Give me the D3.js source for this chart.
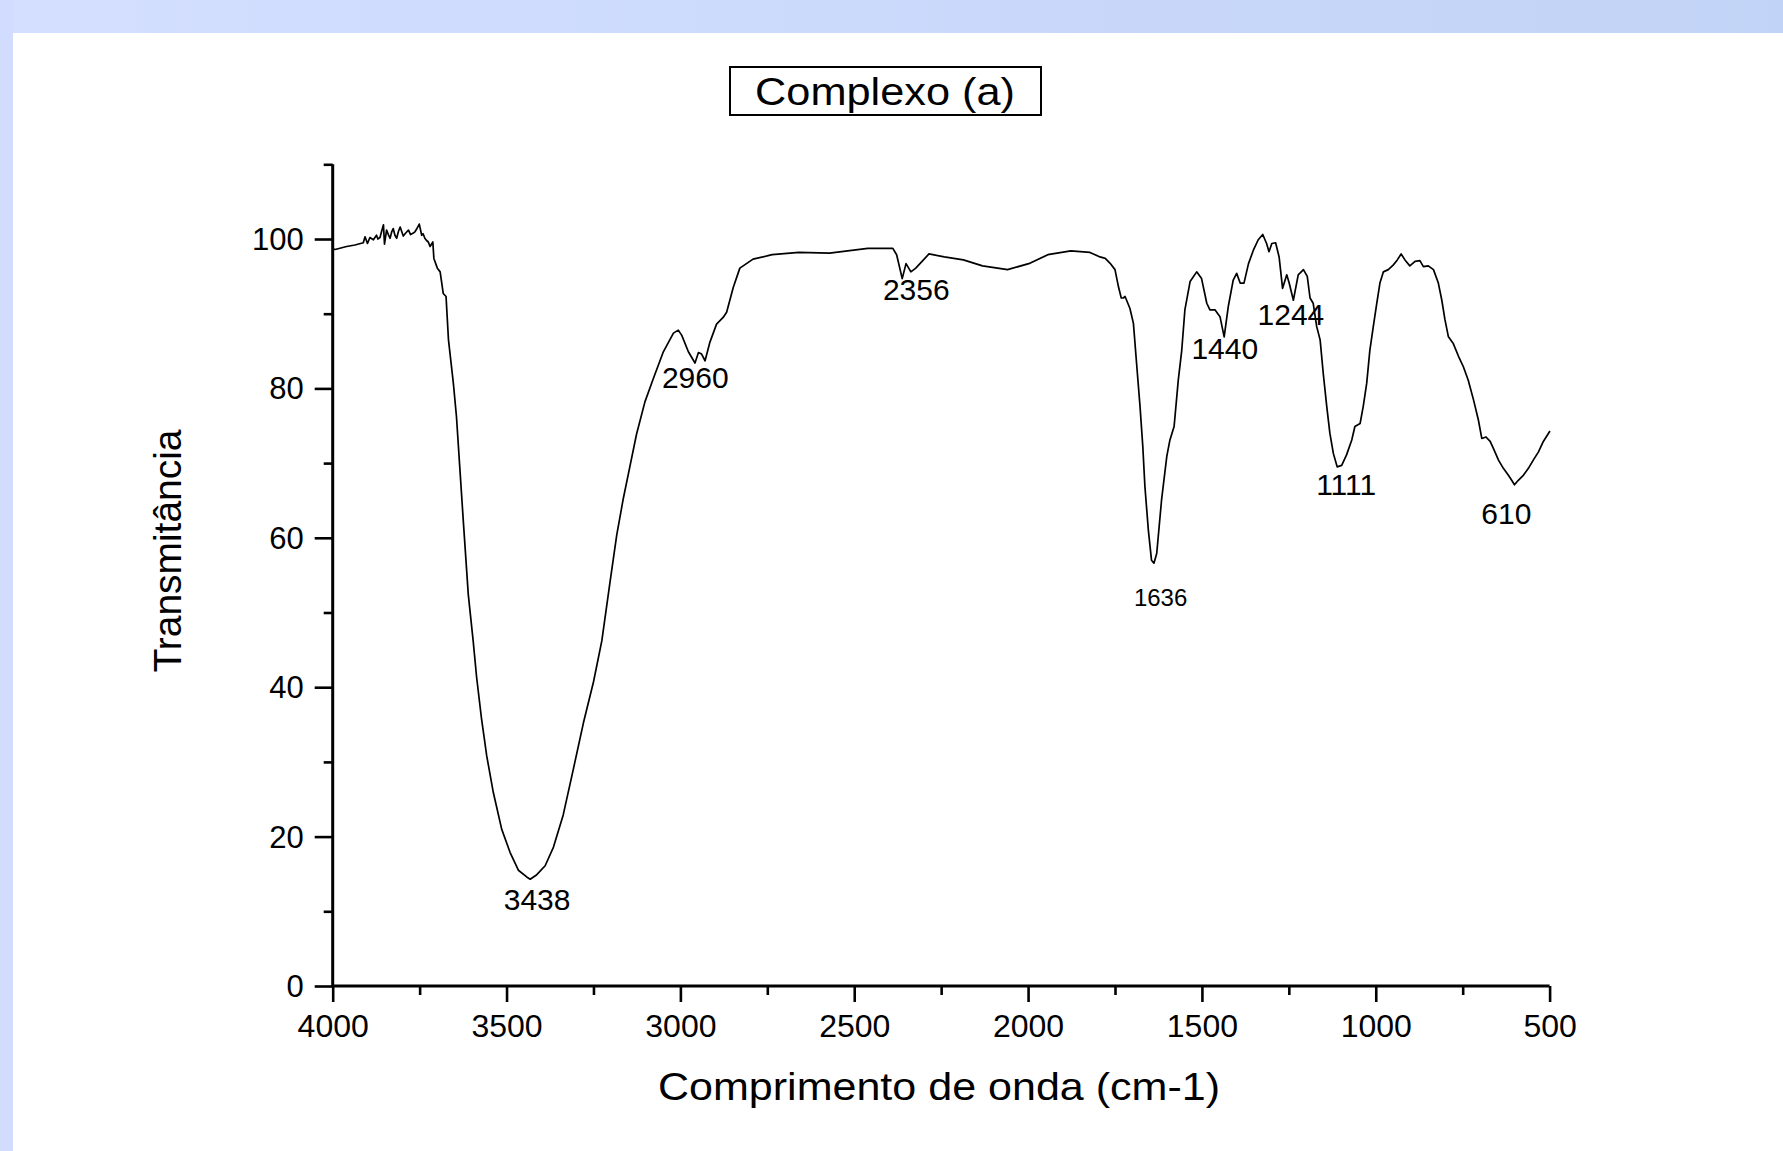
<!DOCTYPE html>
<html>
<head>
<meta charset="utf-8">
<script src="https://cdn.jsdelivr.net/npm/d3@7"></script>
<style>
  body { margin: 0; background: #fff; }
  svg { display: block; }
  text { font-family: "Liberation Sans", Arial, sans-serif; fill: #000; }
</style>
</head>
<body>
<svg id="grafico" width="1783" height="1151"></svg>
<script>
// espectro FTIR: [numero de onda, transmitancia]
const espectro = [
  [4000, 98.7], [3993, 98.6], [3960, 99.0], [3936, 99.2], [3912, 99.5], [3907, 100.3],
  [3900, 99.4], [3893, 100.2], [3883, 99.9], [3874, 100.5], [3870, 100.0], [3864, 100.2],
  [3860, 100.9], [3854, 101.9], [3851, 99.3], [3845, 101.2], [3840, 100.6], [3835, 100.1],
  [3830, 101.0], [3826, 101.4], [3821, 100.5], [3816, 100.1], [3811, 101.0], [3806, 101.6],
  [3797, 100.4], [3790, 100.8], [3782, 101.2], [3776, 100.6], [3768, 100.8], [3763, 101.0],
  [3759, 101.3], [3751, 102.0], [3744, 100.5], [3740, 100.7], [3735, 100.1], [3730, 99.8],
  [3725, 99.6], [3720, 99.0], [3712, 99.6], [3709, 97.4], [3699, 96.1],
  [3691, 95.6], [3682, 92.7], [3674, 92.3], [3667, 86.5], [3653, 80.7], [3644, 76.2],
  [3634, 69.1], [3624, 62.0], [3610, 52.4], [3596, 46.2], [3586, 41.3], [3572, 35.8],
  [3557, 30.8], [3538, 25.9], [3514, 21.0], [3490, 17.9], [3466, 15.5], [3442, 14.6],
  [3432, 14.3], [3413, 14.9], [3389, 16.1], [3365, 18.6], [3337, 22.9], [3308, 29.0],
  [3279, 35.2], [3250, 40.7], [3226, 46.2], [3202, 54.2], [3183, 60.4], [3164, 65.3],
  [3145, 69.6], [3126, 73.9], [3102, 78.2], [3078, 81.3], [3049, 84.9], [3020, 87.4],
  [3006, 87.8], [2996, 87.1], [2977, 84.9], [2958, 83.4], [2948, 84.8], [2939, 84.6],
  [2929, 83.7], [2915, 86.2], [2896, 88.6], [2877, 89.5], [2867, 90.2], [2848, 93.5],
  [2829, 96.1], [2791, 97.3], [2736, 97.9], [2659, 98.2], [2571, 98.1], [2461, 98.75],
  [2389, 98.75], [2378, 97.9], [2362, 94.7], [2351, 96.7], [2337, 95.6], [2323, 96.1],
  [2285, 98.0], [2241, 97.6], [2186, 97.2], [2131, 96.4], [2059, 95.9], [1998, 96.7],
  [1943, 97.9], [1877, 98.4], [1822, 98.2], [1793, 97.6], [1778, 97.4], [1764, 96.75],
  [1750, 95.9], [1740, 93.6], [1732, 92.1], [1726, 92.1], [1721, 92.3], [1707, 90.7],
  [1697, 88.7], [1688, 83.4], [1678, 77.6], [1670, 72.2], [1664, 66.9], [1654, 61.0],
  [1645, 57.0], [1638, 56.6], [1630, 57.9], [1616, 65.1], [1601, 70.9], [1592, 73.1],
  [1580, 74.9], [1568, 81.1], [1558, 85.1], [1549, 90.5], [1534, 94.3], [1515, 95.6],
  [1501, 94.7], [1486, 91.4], [1477, 90.5], [1462, 90.5], [1448, 89.6], [1436, 86.9],
  [1424, 91.0], [1410, 94.5], [1400, 95.4], [1390, 94.1], [1379, 94.1], [1366, 96.7],
  [1352, 98.5], [1338, 99.9], [1325, 100.6], [1314, 99.4], [1307, 98.3], [1299, 99.4],
  [1288, 99.5], [1278, 97.6], [1268, 93.4], [1256, 95.2], [1249, 94.1], [1237, 91.8],
  [1223, 95.2], [1208, 95.9], [1197, 95.0], [1189, 92.1], [1180, 91.4], [1170, 88.3],
  [1160, 86.5], [1151, 82.0], [1141, 77.6], [1132, 74.0], [1122, 71.3], [1111, 69.5],
  [1098, 69.7], [1084, 71.1], [1069, 73.1], [1060, 74.9], [1045, 75.3], [1036, 77.6],
  [1026, 80.7], [1017, 85.1], [1007, 88.3], [997, 91.4], [988, 94.1], [978, 95.6],
  [964, 95.9], [950, 96.5], [938, 97.2], [927, 98.0], [916, 97.2], [902, 96.4],
  [887, 97.0], [873, 97.1], [863, 96.3], [849, 96.4], [834, 95.9], [820, 94.1],
  [810, 91.8], [801, 89.2], [791, 86.9], [777, 86.0], [762, 84.3], [748, 82.9],
  [734, 81.1], [719, 78.5], [705, 75.8], [695, 73.3], [683, 73.5], [671, 72.9],
  [662, 72.0], [647, 70.4], [633, 69.3], [619, 68.4], [609, 67.7], [601, 67.1],
  [590, 67.7], [575, 68.4], [561, 69.3], [547, 70.4], [532, 71.5], [518, 72.9],
  [499, 74.3]
]

// bandas marcadas: rotulo, numero de onda, transmitancia no minimo
const picos = [
  { rotulo: '3438', onda: 3438, valor: 14.3 },
  { rotulo: '2960', onda: 2960, valor: 83.4 },
  { rotulo: '2356', onda: 2356, valor: 94.7 },
  { rotulo: '1636', onda: 1636, valor: 56.6 },
  { rotulo: '1440', onda: 1440, valor: 86.9 },
  { rotulo: '1244', onda: 1244, valor: 91.8 },
  { rotulo: '1111', onda: 1111, valor: 69.5 },
  { rotulo: '610', onda: 610, valor: 67.1 }
]

const ticksX = [4000, 3500, 3000, 2500, 2000, 1500, 1000, 500]
const ticksXmenores = [3750, 3250, 2750, 2250, 1750, 1250, 750]
const ticksY = [0, 20, 40, 60, 80, 100]
const ticksYmenores = [10, 30, 50, 70, 90, 110]

const titulo = 'Complexo (a)'
const tituloX = 'Comprimento de onda (cm-1)'
const tituloY = 'Transmitância'

const svg = d3.select('#grafico')

// fundo azul claro (faixa de cima e da esquerda)
const defs = svg.append('defs')
const grad = defs.append('linearGradient')
    .attr('id', 'faixa')
    .attr('x1', '0%').attr('x2', '100%')
    .attr('y1', '0%').attr('y2', '0%')
grad.append('stop').attr('offset', '0%').attr('stop-color', '#d4dfff')
grad.append('stop').attr('offset', '100%').attr('stop-color', '#c1d3f6')

svg.append('rect').attr('x', 0).attr('y', 0).attr('width', 1783).attr('height', 33)
    .attr('fill', 'url(#faixa)')
svg.append('rect').attr('x', 0).attr('y', 0).attr('width', 13).attr('height', 1151)
    .attr('fill', '#d1dcfe')

const x = d3.scaleLinear().domain([4000, 500]).range([332.7, 1549.6])
const y = d3.scaleLinear().domain([0, 110]).range([986, 164.3])

const g = svg.append('g')

// eixo X
const eixoX = g.append('g').attr('transform', `translate(0,${y(0)})`)
    .call(d3.axisBottom(x).tickValues(ticksX).tickSize(16).tickPadding(12).tickFormat(d3.format('d')))
eixoX.append('g')
    .call(d3.axisBottom(x).tickValues(ticksXmenores).tickSize(9).tickFormat(''))
    .call(s => s.select('.domain').remove())

// eixo Y
const eixoY = g.append('g').attr('transform', `translate(${x(4000)},0)`)
    .call(d3.axisLeft(y).tickValues(ticksY).tickSize(18).tickPadding(11).tickFormat(d3.format('d')))
eixoY.append('g')
    .call(d3.axisLeft(y).tickValues(ticksYmenores).tickSize(9).tickFormat(''))
    .call(s => s.select('.domain').remove())

g.selectAll('.domain').attr('stroke', '#000').attr('stroke-width', 3)
g.selectAll('.tick line').attr('stroke', '#000').attr('stroke-width', 2.6)
eixoX.select('.domain').attr('d', `M${x(4000)},0H${x(500)}`)
eixoY.select('.domain').attr('d', `M0,${y(110)}V${y(0)}`)

eixoX.selectAll('.tick text').attr('font-size', 32).attr('font-family', '"Liberation Sans", Arial, sans-serif')
eixoY.selectAll('.tick text').attr('font-size', 31).attr('font-family', '"Liberation Sans", Arial, sans-serif')
    .attr('dy', '0.34em')

// espectro
const linha = d3.line()
    .x(d => x(d[0]))
    .y(d => y(d[1]))

g.append('path')
    .datum(espectro)
    .attr('fill', 'none')
    .attr('stroke', '#000')
    .attr('stroke-width', 1.7)
    .attr('stroke-linejoin', 'round')
    .attr('d', linha)

// rotulos das bandas
const deslocamentos = {
    '3438': [9, 31, 30], '2960': [1, 25, 30], '2356': [12, 21, 30], '1636': [6, 43, 24],
    '1440': [2, 22, 30], '1244': [0, 25, 30], '1111': [9, 28, 30], '610': [-5, 39, 30]
}
g.selectAll('.pico')
    .data(picos)
    .enter().append('text')
    .attr('class', 'pico')
    .attr('text-anchor', 'middle')
    .attr('x', d => x(d.onda) + deslocamentos[d.rotulo][0])
    .attr('y', d => y(d.valor) + deslocamentos[d.rotulo][1])
    .attr('font-size', d => deslocamentos[d.rotulo][2])
    .text(d => d.rotulo)

// titulos dos eixos
svg.append('text')
    .attr('x', 939).attr('y', 1100)
    .attr('text-anchor', 'middle')
    .attr('font-size', 39)
    .attr('textLength', 562)
    .attr('lengthAdjust', 'spacingAndGlyphs')
    .text(tituloX)

svg.append('text')
    .attr('transform', 'translate(181,551) rotate(-90)')
    .attr('text-anchor', 'middle')
    .attr('font-size', 38)
    .attr('textLength', 243)
    .attr('lengthAdjust', 'spacingAndGlyphs')
    .text(tituloY)

// titulo em caixa
svg.append('rect')
    .attr('x', 730).attr('y', 67).attr('width', 311).attr('height', 48)
    .attr('fill', '#fff').attr('stroke', '#000').attr('stroke-width', 2)
svg.append('text')
    .attr('x', 885).attr('y', 105)
    .attr('text-anchor', 'middle')
    .attr('font-size', 39)
    .attr('textLength', 260)
    .attr('lengthAdjust', 'spacingAndGlyphs')
    .text(titulo)
</script>
</body>
</html>
